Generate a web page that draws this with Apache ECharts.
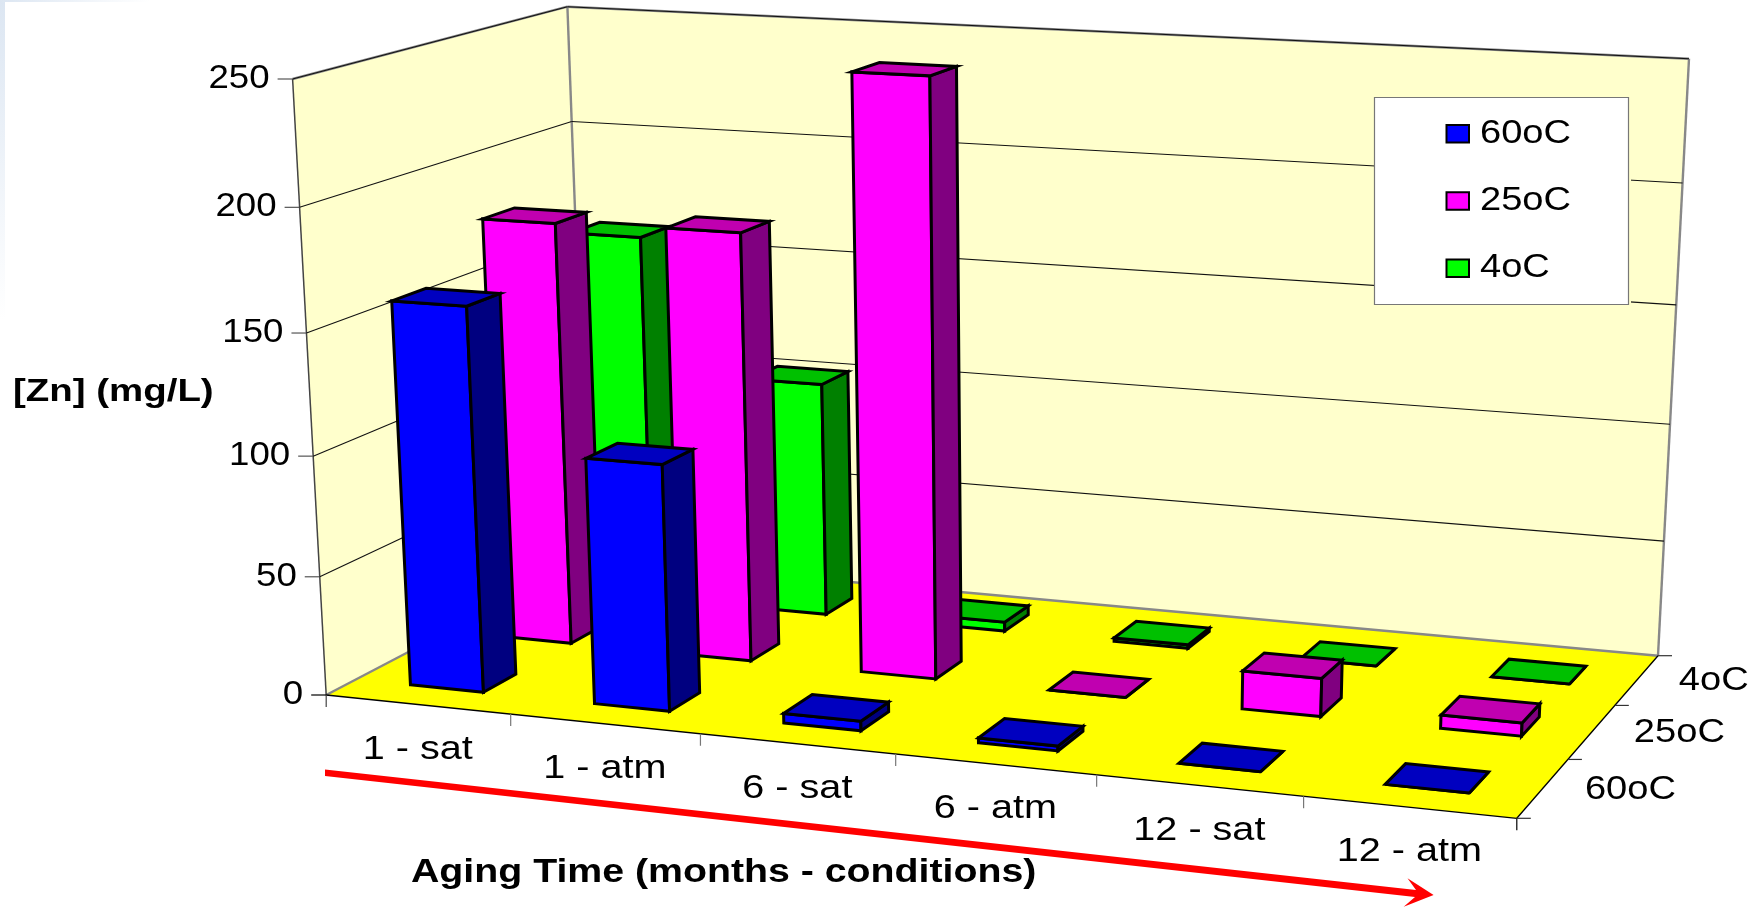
<!DOCTYPE html>
<html>
<head>
<meta charset="utf-8">
<style>html,body{margin:0;background:#fff}#main{width:1763px;height:907px}</style>
<script src="https://cdn.jsdelivr.net/npm/echarts@6/dist/echarts.min.js"></script>
</head>
<body>
<div id="main"></div>
<script>
var categories = ['1 - sat', '1 - atm', '6 - sat', '6 - atm', '12 - sat', '12 - atm'];
var depthNames = ['60oC', '25oC', '4oC'];
var yTicks = [0, 50, 100, 150, 200, 250];
var values60 = [160, 102, 4, 2, 0, 0];
var values25 = [180, 181, 248, 0, 16, 5.5];
var values4 = [161, 102.5, 4, 1.5, 0, 0];

var colors = {
    '60oC': { front: '#0000ff', side: '#000080', top: '#0000c0' },
    '25oC': { front: '#ff00ff', side: '#800080', top: '#c000b0' },
    '4oC': { front: '#00ff00', side: '#008000', top: '#00c000' }
};
var FONT = '"Liberation Sans"';

// corners of the box on the page: floor and the plane at the axis max
var floorQuad = [[326.2, 695], [1516.8, 818.3], [1658, 655.7], [588, 558]];
var topQuad = [[292.6, 79], [1544.5, 145.8], [1689, 58.7], [567.4, 6.7]];
var W = 1763, H = 907;

function makeHomography(q) {
    var dx1 = q[1][0] - q[2][0], dx2 = q[3][0] - q[2][0], dx3 = q[0][0] - q[1][0] + q[2][0] - q[3][0];
    var dy1 = q[1][1] - q[2][1], dy2 = q[3][1] - q[2][1], dy3 = q[0][1] - q[1][1] + q[2][1] - q[3][1];
    var den = dx1 * dy2 - dx2 * dy1;
    var g = (dx3 * dy2 - dx2 * dy3) / den, h = (dx1 * dy3 - dx3 * dy1) / den;
    var a = q[1][0] - q[0][0] + g * q[1][0], b = q[3][0] - q[0][0] + h * q[3][0];
    var d = q[1][1] - q[0][1] + g * q[1][1], e = q[3][1] - q[0][1] + h * q[3][1];
    return function (u, v) {
        var w = g * u + h * v + 1;
        return [(a * u + b * v + q[0][0]) / w, (d * u + e * v + q[0][1]) / w];
    };
}
var floorMap = makeHomography(floorQuad);
var topMap = makeHomography(topQuad);

// u along categories, v into the depth, n = share of the value axis
function project(u, v, n) {
    var t = 0.95 * n / (1 - 0.05 * n);
    var a = floorMap(u, v), b = topMap(u, v);
    return [a[0] + (b[0] - a[0]) * t, a[1] + (b[1] - a[1]) * t];
}

function poly(points, fill, lw, stroke) {
    return { type: 'polygon', shape: { points: points }, style: { fill: fill, stroke: stroke || '#000', lineWidth: lw == null ? 3 : lw, lineJoin: 'miter' } };
}
function seg(a, b, color, lw) {
    return { type: 'line', shape: { x1: a[0], y1: a[1], x2: b[0], y2: b[1] }, style: { stroke: color, lineWidth: lw, fill: null } };
}
function label(text, x, y, size, sx, align, bold) {
    return {
        type: 'text', x: x, y: y, scaleX: sx,
        style: {
            text: text, fill: '#000', font: (bold ? 'bold ' : '') + size + 'px ' + FONT,
            align: align, verticalAlign: 'middle', textAlign: align, textVerticalAlign: 'middle'
        }
    };
}

function renderBar(params, api) {
    var c = api.coord([api.value(0), api.value(1)]);
    var band = api.size([1, 0])[0];
    var u0 = (c[0] - band * 0.2) / W, u1 = (c[0] + band * 0.2) / W;
    var n = 1 - c[1] / H;
    var row = depthNames.indexOf(params.seriesName);
    var v0 = (row + 0.31) / 3, v1 = (row + 0.67) / 3;
    var col = colors[params.seriesName];
    var f0 = project(u0, v0, 0), f1 = project(u1, v0, 0), f2 = project(u1, v1, 0);
    var t0 = project(u0, v0, n), t1 = project(u1, v0, n), t2 = project(u1, v1, n), t3 = project(u0, v1, n);
    return {
        type: 'group',
        children: [
            poly([f0, f1, t1, t0], col.front),
            poly([f1, f2, t2, t1], col.side),
            poly([t0, t1, t2, t3], col.top)
        ]
    };
}

function renderGridline(params, api) {
    var n = 1 - api.coord([0, api.value(1)])[1] / H;
    var a = project(0, 0, n), b = project(0, 1, n), c = project(1, 1, n);
    var kids = [label(String(api.value(1)), a[0] - 23, a[1], 33, 1.11, 'right')];
    kids.push(seg([a[0] - 15, a[1]], a, n === 0 ? '#000' : '#555', 1.2));
    if (n > 0) {
        kids.push(seg(a, b, '#111', 1.1), seg(b, c, '#111', 1.1));
    }
    return { type: 'group', children: kids };
}

function renderCategory(params, api) {
    var i = api.value(0);
    var c = api.coord([i, 0]);
    var band = api.size([1, 0])[0];
    var mid = project(c[0] / W, 0, 0);
    var end = project((c[0] + band / 2) / W, 0, 0);
    return {
        type: 'group',
        children: [
            label(categories[i], mid[0], mid[1] + 45, 33, 1.2, 'center'),
            seg(end, [end[0], end[1] + 12], i === categories.length - 1 ? '#000' : '#777', 1.2)
        ]
    };
}

function renderFrame() {
    var fl = project(0, 0, 0), fr = project(1, 0, 0), br = project(1, 1, 0), bl = project(0, 1, 0);
    var tfl = project(0, 0, 1), tbl = project(0, 1, 1), tbr = project(1, 1, 1);
    return {
        type: 'group',
        children: [
            {
                type: 'rect', shape: { x: 0, y: 0, width: 5, height: 320 },
                style: { fill: { type: 'linear', x: 0, y: 0, x2: 0, y2: 1, colorStops: [{ offset: 0, color: '#dce6f2' }, { offset: 1, color: '#ffffff' }] } }
            },
            {
                type: 'rect', shape: { x: 0, y: 0, width: 150, height: 2 },
                style: { fill: { type: 'linear', x: 0, y: 0, x2: 1, y2: 0, colorStops: [{ offset: 0, color: '#dce6f2' }, { offset: 1, color: '#ffffff' }] } }
            },
            poly([fl, bl, tbl, tfl], '#ffffcc', 0, 'transparent'),
            poly([bl, br, tbr, tbl], '#ffffcc', 0, 'transparent'),
            poly([fl, fr, br, bl], '#ffff00', 0, 'transparent'),
            seg(tfl, tbl, '#888', 2.4), seg(tbl, tbr, '#888', 2.4), seg(tbr, br, '#888', 2.4),
            seg(tbl, bl, '#888', 2.4), seg(bl, br, '#888', 2.4), seg(fl, bl, '#888', 2.4),
            seg(fl, tfl, '#444', 1.5), seg(fl, fr, '#000', 1.3), seg(fr, br, '#000', 1.3),
            seg(fl, [fl[0], fl[1] + 12], '#444', 1.2)
        ]
    };
}

function renderDepth(params, api) {
    var row = api.value(0);
    var p = project(1, (row + 0.5) / 3, 0);
    var kids = [label(depthNames[row], p[0] + 42, p[1] + 1, 34, 1.12, 'left')];
    var b = project(1, (row + 1) / 3, 0);
    kids.push(seg(b, [b[0] + 14, b[1]], '#333', 1.2));
    var a = project(1, row / 3, 0);
    if (row === 0) kids.push(seg(a, [a[0] + 14, a[1]], '#333', 1.2));
    return { type: 'group', children: kids };
}

function renderOverlay() {
    var kids = [
        { type: 'rect', shape: { x: 1374, y: 97.5, width: 257, height: 209 }, style: { fill: '#ffffcc' } },
        { type: 'rect', shape: { x: 1374.5, y: 97.5, width: 254, height: 207 }, style: { fill: '#fff', stroke: '#777', lineWidth: 1.2 } },
        label('[Zn] (mg/L)', 13, 392, 31, 1.24, 'left', true),
        label('Aging Time (months - conditions)', 411, 873, 33, 1.19, 'left', true),
        poly([[325, 769.5], [1416, 890], [1407.5, 878.3], [1433.6, 895], [1403.7, 906.7], [1415, 897], [325, 776]], '#ff0000', 0, 'transparent')
    ];
    depthNames.forEach(function (name, i) {
        var y = 125 + i * 67.3;
        kids.push({
            type: 'rect', shape: { x: 1446.5, y: y, width: 22.5, height: 17.5 },
            style: { fill: colors[name].front, stroke: '#000', lineWidth: 2 }
        });
        kids.push(label(name, 1480, y + 8.5, 34, 1.12, 'left'));
    });
    return { type: 'group', children: kids };
}

var grid = { left: 0, top: 0, width: W, height: H };
var axisHidden = { show: false };
var myChart = echarts.init(document.getElementById('main'), null, { renderer: 'canvas' });

function barSeries(name, values, z) {
    return {
        type: 'custom', name: name, z: z, clip: false, silent: true,
        coordinateSystem: 'cartesian2d',
        renderItem: renderBar,
        encode: { x: 0, y: 1 },
        data: values.map(function (v, i) { return [categories[i], v]; })
    };
}

myChart.setOption({
    animation: false,
    backgroundColor: '#fff',
    grid: grid,
    xAxis: Object.assign({ type: 'category', data: categories }, axisHidden),
    yAxis: Object.assign({ type: 'value', min: 0, max: 250, interval: 50 }, axisHidden),
    series: [
        { type: 'custom', z: 1, silent: true, coordinateSystem: 'none', renderItem: renderFrame, data: [0] },
        {
            type: 'custom', z: 2, silent: true, coordinateSystem: 'cartesian2d', renderItem: renderGridline, clip: false,
            encode: { x: 0, y: 1 }, data: yTicks.map(function (t) { return [0, t]; })
        },
        {
            type: 'custom', z: 2, silent: true, coordinateSystem: 'cartesian2d', renderItem: renderCategory, clip: false,
            encode: { x: 0, y: 1 }, data: categories.map(function (c, i) { return [i, 0]; })
        },
        { type: 'custom', z: 2, silent: true, coordinateSystem: 'none', renderItem: renderDepth, data: [[0], [1], [2]] },
        { type: 'custom', z: 3, silent: true, coordinateSystem: 'none', renderItem: renderOverlay, data: [0] },
        barSeries('4oC', values4, 4),
        barSeries('25oC', values25, 5),
        barSeries('60oC', values60, 6)
    ]
});
</script>
</body>
</html>
